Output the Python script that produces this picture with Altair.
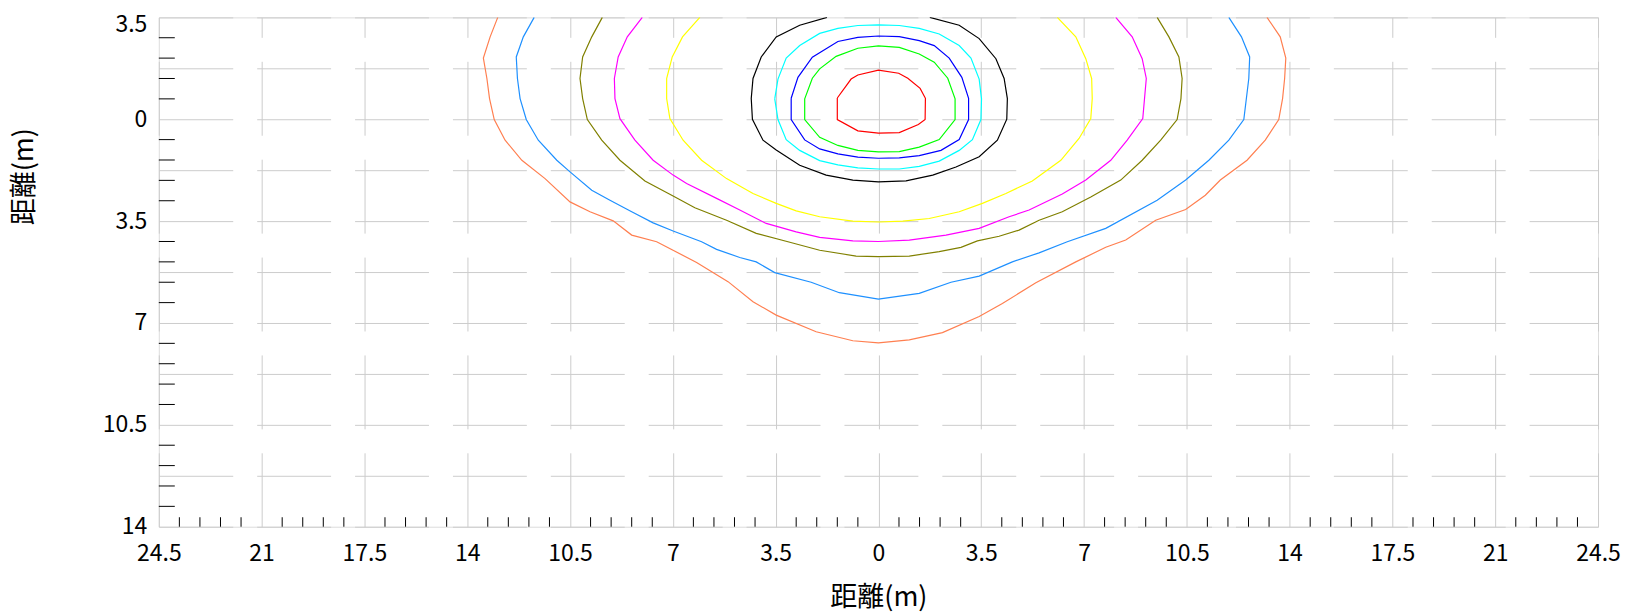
import altair as alt
import pandas as pd

# ---- contour paths (x: distance m, y: depth m, positive downward) ----
red_x = [-1.40, -1.40, -0.70, 0.00, 0.71, 1.36, 1.59, 1.60, 1.42, 1.00, 0.69, 0.00, -0.70, -0.93, -1.40]
red_y = [-0.73, 0.01, 0.40, 0.48, 0.46, 0.18, 0.01, -0.72, -1.06, -1.41, -1.58, -1.69, -1.52, -1.38, -0.73]

green_x = [-2.51, -2.51, -2.00, -1.38, -0.70, 0.00, 0.71, 1.39, 2.07, 2.61, 2.61, 2.36, 1.90, 1.39, 0.71, 0.00, -0.70, -1.44, -2.00, -2.25, -2.51]
green_y = [-0.70, 0.01, 0.62, 0.90, 1.07, 1.12, 1.11, 0.96, 0.70, 0.01, -0.70, -1.41, -1.96, -2.24, -2.47, -2.52, -2.44, -2.16, -1.73, -1.41, -0.70]

blue_x = [-2.97, -2.97, -2.51, -2.00, -1.38, -0.70, 0.00, 0.71, 1.39, 2.13, 2.75, 3.07, 3.07, 2.84, 2.41, 1.90, 1.39, 0.71, 0.00, -0.70, -1.38, -2.25, -2.74, -2.97]
blue_y = [-0.72, 0.01, 0.71, 1.02, 1.19, 1.30, 1.34, 1.33, 1.25, 1.07, 0.70, 0.01, -0.72, -1.44, -2.10, -2.53, -2.70, -2.84, -2.86, -2.81, -2.67, -2.13, -1.44, -0.72]

cyan_x = [-3.53, -3.42, -3.14, -2.68, -2.00, -1.38, -0.70, 0.00, 0.71, 1.39, 2.07, 2.75, 3.20, 3.49, 3.51, 3.43, 3.15, 2.75, 2.07, 1.39, 0.71, 0.00, -0.70, -1.38, -2.00, -2.68, -3.14, -3.42, -3.53]
cyan_y = [-0.70, 0.01, 0.70, 1.07, 1.42, 1.57, 1.67, 1.71, 1.71, 1.62, 1.44, 1.07, 0.70, 0.01, -0.70, -1.38, -2.10, -2.53, -2.93, -3.12, -3.22, -3.24, -3.22, -3.12, -2.95, -2.53, -2.10, -1.38, -0.70]

black_x = [-1.75, -2.68, -3.48, -3.99, -4.27, -4.33, -4.29, -3.93, -3.48, -2.68, -1.78, -0.87, 0.00, 0.94, 1.85, 2.64, 3.43, 4.05, 4.37, 4.39, 4.28, 4.00, 3.43, 2.75, 1.75]
black_y = [-3.50, -3.23, -2.83, -2.14, -1.40, -0.71, 0.00, 0.72, 1.06, 1.58, 1.92, 2.09, 2.15, 2.12, 1.92, 1.64, 1.29, 0.72, 0.00, -0.71, -1.40, -2.08, -2.77, -3.23, -3.50]

yellow_x = [-6.08, -6.67, -7.02, -7.21, -7.21, -7.10, -6.65, -6.02, -5.17, -4.27, -3.48, -2.80, -2.00, -0.87, 0.00, 0.83, 1.73, 2.75, 3.54, 4.34, 5.24, 6.21, 6.83, 7.23, 7.28, 7.26, 7.06, 6.72, 6.09]
yellow_y = [-3.50, -2.83, -2.14, -1.40, -0.71, -0.02, 0.72, 1.41, 2.04, 2.55, 2.89, 3.15, 3.35, 3.50, 3.53, 3.50, 3.41, 3.18, 2.89, 2.55, 2.12, 1.41, 0.66, -0.02, -0.71, -1.40, -2.08, -2.83, -3.50]

magenta_x = [-8.04, -8.55, -8.86, -8.99, -8.97, -8.80, -8.29, -7.67, -6.99, -6.53, -5.51, -4.72, -3.82, -2.80, -2.00, -0.87, 0.00, 1.05, 2.30, 3.43, 4.45, 5.13, 6.26, 7.06, 7.91, 8.47, 9.00, 9.06, 9.12, 8.98, 8.64, 8.08]
magenta_y = [-3.50, -2.83, -2.14, -1.40, -0.71, -0.02, 0.72, 1.41, 1.92, 2.21, 2.72, 3.12, 3.58, 3.87, 4.06, 4.18, 4.20, 4.15, 3.98, 3.75, 3.35, 3.12, 2.57, 2.09, 1.41, 0.72, -0.02, -0.71, -1.40, -2.08, -2.83, -3.50]

olive_x = [-9.40, -9.76, -10.07, -10.16, -10.07, -9.91, -9.42, -8.80, -7.95, -6.99, -6.25, -5.17, -4.16, -3.08, -2.00, -0.76, 0.00, 1.05, 2.07, 2.81, 3.37, 4.11, 4.79, 5.47, 6.26, 7.23, 8.25, 8.98, 9.61, 10.17, 10.30, 10.34, 10.23, 9.89, 9.49]
olive_y = [-3.50, -2.83, -2.14, -1.40, -0.71, 0.01, 0.72, 1.41, 2.12, 2.64, 3.04, 3.47, 3.92, 4.21, 4.50, 4.70, 4.72, 4.70, 4.55, 4.40, 4.18, 4.02, 3.81, 3.47, 3.18, 2.67, 2.09, 1.41, 0.72, 0.01, -0.71, -1.40, -2.14, -2.83, -3.50]

dblue_x = [-11.72, -12.09, -12.33, -12.29, -12.20, -11.99, -11.58, -10.95, -10.50, -9.76, -9.14, -8.40, -7.67, -6.99, -6.02, -5.51, -4.72, -4.16, -3.53, -2.29, -1.33, 0.00, 1.39, 2.47, 3.43, 4.56, 5.47, 6.43, 7.74, 9.49, 10.46, 11.25, 11.93, 12.44, 12.61, 12.64, 12.36, 11.93]
dblue_y = [-3.50, -2.83, -2.14, -1.40, -0.71, 0.01, 0.72, 1.41, 1.81, 2.44, 2.78, 3.18, 3.56, 3.84, 4.21, 4.47, 4.75, 4.90, 5.27, 5.60, 5.96, 6.18, 5.98, 5.60, 5.39, 4.90, 4.59, 4.21, 3.75, 2.78, 2.09, 1.41, 0.72, 0.01, -1.40, -2.14, -2.83, -3.50]

orange_x = [-12.96, -13.22, -13.45, -13.33, -13.24, -13.08, -12.71, -12.14, -11.35, -10.50, -9.82, -9.03, -8.40, -7.55, -6.19, -5.12, -4.27, -3.48, -2.12, -0.87, 0.00, 1.05, 2.18, 3.43, 4.22, 5.36, 6.72, 7.74, 8.42, 9.44, 10.46, 11.13, 11.64, 12.55, 13.17, 13.63, 13.76, 13.83, 13.87, 13.68, 13.23]
orange_y = [-3.50, -2.83, -2.10, -1.40, -0.71, 0.01, 0.72, 1.41, 2.04, 2.84, 3.18, 3.49, 3.98, 4.21, 4.92, 5.58, 6.27, 6.73, 7.30, 7.61, 7.68, 7.58, 7.33, 6.78, 6.33, 5.62, 4.90, 4.40, 4.15, 3.47, 3.10, 2.61, 2.09, 1.41, 0.72, 0.01, -0.71, -1.40, -2.10, -2.83, -3.50]

levels = ["L1", "L2", "L3", "L4", "L5", "L6", "L7", "L8", "L9", "L10"]
level_colors = ["#ff0000", "#00ff00", "#0000ff", "#00ffff", "#000000",
                "#ffff00", "#ff00ff", "#808000", "#1e90ff", "#ff7f50"]
paths = [(red_x, red_y), (green_x, green_y), (blue_x, blue_y), (cyan_x, cyan_y),
         (black_x, black_y), (yellow_x, yellow_y), (magenta_x, magenta_y),
         (olive_x, olive_y), (dblue_x, dblue_y), (orange_x, orange_y)]

# ---- axis ticks ----
x_major = [-24.5, -21, -17.5, -14, -10.5, -7, -3.5, 0, 3.5, 7, 10.5, 14, 17.5, 21, 24.5]
y_grid = [-3.5, -1.75, 0, 1.75, 3.5, 5.25, 7, 8.75, 10.5, 12.25, 14]
x_minor = [round(-24.5 + 0.7 * i, 2) for i in range(71) if i % 5 != 0]
y_minor = [round(-3.5 + 0.7 * i, 2) for i in range(26) if i % 5 != 0]

rows = []
for lev, (xs, ys) in zip(levels, paths):
    for i, (a, b) in enumerate(zip(xs, ys)):
        rows.append({"level": lev, "x": a, "y": b, "order": i})
df = pd.DataFrame(rows)

FONT = "Noto Sans CJK JP"
W, H = 1441, 510

xscale = alt.Scale(domain=[-24.5, 24.5], nice=False, zero=False)
yscale = alt.Scale(domain=[-3.5, 14], nice=False, zero=False, reverse=True)

x_axis = alt.Axis(
    values=x_major, labelExpr="'' + abs(datum.value)", grid=True,
    gridDash=[74, 24], gridColor="#cccccc", gridWidth=1, ticks=False, domain=False,
    labelFont=FONT, labelFontSize=23, labelPadding=16, labelColor="black",
    labelFlush=False, labelOverlap=False,
    title="距離(m)", titleFont=FONT, titleFontSize=27, titleFontWeight="normal",
    titleColor="black", titleX=W / 2, titleY=71, titleAlign="center", titleBaseline="middle",
)
y_axis = alt.Axis(
    values=y_grid, labelExpr="datum.value % 3.5 == 0 ? '' + abs(datum.value) : ''",
    grid=True, gridDash=[74, 24], gridColor="#cccccc", gridWidth=1, ticks=False, domain=False,
    labelFont=FONT, labelFontSize=23, labelPadding=12, labelColor="black",
    labelFlush=False, labelOverlap=False,
    labelOffset={"condition": {"test": "datum.value == -3.5", "value": 7}, "value": 0},
    title="距離(m)", titleFont=FONT, titleFontSize=27, titleFontWeight="normal",
    titleColor="black", titleX=-134, titleY=159, titleAngle=-90,
    titleAlign="center", titleBaseline="middle",
)

lines = alt.Chart(df).mark_line(strokeWidth=1.2, clip=True).encode(
    x=alt.X("x:Q", scale=xscale, axis=x_axis),
    y=alt.Y("y:Q", scale=yscale, axis=y_axis),
    color=alt.Color("level:N", scale=alt.Scale(domain=levels, range=level_colors), legend=None),
    detail="level:N",
    order="order:Q",
)

xt = alt.Chart(pd.DataFrame({"x": x_minor})).mark_rule(color="black", strokeWidth=1).encode(
    x=alt.X("x:Q", scale=xscale, axis=x_axis),
    y=alt.value(H), y2=alt.value(H - 9.5),
)
yt = alt.Chart(pd.DataFrame({"y": y_minor})).mark_rule(color="black", strokeWidth=1).encode(
    y=alt.Y("y:Q", scale=yscale, axis=y_axis),
    x=alt.value(0), x2=alt.value(16),
)

chart = alt.layer(lines, xt, yt).properties(
    width=W, height=H,
    autosize=alt.AutoSizeParams(type="none"),
    padding={"left": 151, "top": 9, "right": 23, "bottom": 86},
).configure_view(stroke="#808080", strokeWidth=2).configure(background="white")

chart.save("out.html", embed_options={"renderer": "svg", "actions": False})
